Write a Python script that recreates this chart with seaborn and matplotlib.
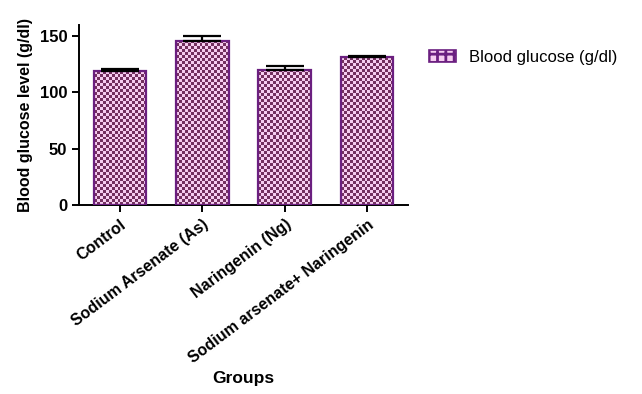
import numpy as np
import matplotlib
matplotlib.use('Agg')
import matplotlib.pyplot as plt
import seaborn as sns
from matplotlib.colors import ListedColormap
from matplotlib.patches import Patch

groups = ['Control', 'Sodium Arsenate (As)', 'Naringenin (Ng)', 'Sodium arsenate+ Naringenin']
glucose = [119, 146, 120, 131]
sem = [2.0, 4.0, 3.5, 1.5]

pink = '#f6cdf0'
dark = '#73305f'
edge = '#6b1f80'


def checker_fill(ax, patch, cell=3):
    # GraphPad-style checkerboard inside each bar
    bb = patch.get_window_extent()
    ncol = max(int(round(bb.width / cell)), 1)
    nrow = max(int(round(bb.height / cell)), 1)
    yy, xx = np.indices((nrow, ncol))
    board = (xx + yy) % 2
    x0 = patch.get_x()
    y0 = patch.get_y()
    im = ax.imshow(board, cmap=ListedColormap([pink, dark]), aspect='auto',
                   interpolation='nearest', origin='lower',
                   extent=(x0, x0 + patch.get_width(), y0, y0 + patch.get_height()),
                   zorder=2)
    im.set_clip_path(patch)
    patch.set_facecolor('none')
    patch.set_zorder(3)


sns.set_style('ticks')
plt.rcParams['font.family'] = ['Liberation Sans', 'DejaVu Sans']
plt.rcParams['text.color'] = 'black'
plt.rcParams['axes.labelcolor'] = 'black'
plt.rcParams['xtick.color'] = 'black'
plt.rcParams['ytick.color'] = 'black'
plt.rcParams['axes.edgecolor'] = 'black'
plt.rcParams['hatch.color'] = dark
plt.rcParams['hatch.linewidth'] = 2.0

fig = plt.figure(figsize=(6.42, 3.94), dpi=100, facecolor='w')
ax = fig.add_axes([0.123, 0.48, 0.513, 0.457])

sns.barplot(x=groups, y=glucose, color=pink, edgecolor=edge, linewidth=1.6,
            width=0.64, saturation=1, ax=ax, zorder=2)
ax.errorbar(range(len(groups)), glucose, yerr=[np.zeros(len(sem)), sem],
            fmt='none', ecolor='black', elinewidth=1.6, capsize=14, capthick=1.6, zorder=4)

ax.set_ylim(0, 160)
ax.set_xlim(-0.5, 3.5)
ax.set_yticks([0, 50, 100, 150])
for s in ['top', 'right']:
    ax.spines[s].set_visible(False)
for s in ['left', 'bottom']:
    ax.spines[s].set_linewidth(1.4)
ax.tick_params(axis='both', width=1.4, length=5, labelsize=12)
for t in ax.get_yticklabels():
    t.set_fontweight('bold')
ax.set_xticks(range(len(groups)))
ax.set_xticklabels(groups, rotation=37, ha='right', rotation_mode='anchor',
                   fontweight='bold', fontsize=11.5)
ax.set_ylabel('Blood glucose level (g/dl)', fontweight='bold', fontsize=11.5, labelpad=5)
ax.set_xlabel('Groups', fontweight='bold', fontsize=12.5, labelpad=4)

fig.canvas.draw()
for p in list(ax.patches):
    checker_fill(ax, p)

handle = Patch(facecolor=pink, edgecolor=edge, hatch='++', linewidth=1.2)
fig.legend([handle], ['Blood glucose (g/dl)'], loc='center left',
           bbox_to_anchor=(0.645, 0.855), frameon=False, fontsize=12,
           handlelength=1.6, handleheight=0.8, handletextpad=0.8)

plt.savefig('out.png', dpi=100)
